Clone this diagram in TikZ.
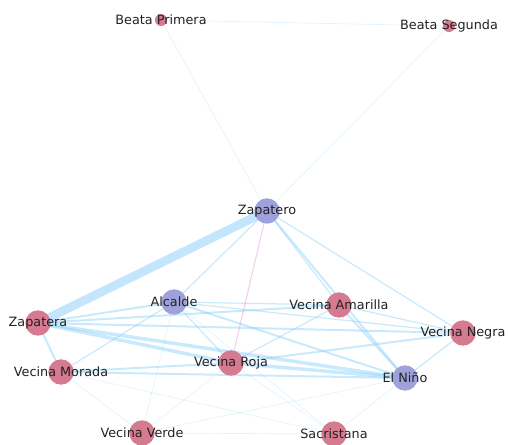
\documentclass[tikz,border=0pt]{standalone}
\usepackage{fontspec}
\setmainfont{DejaVu Sans}
\usepackage{xcolor}
\usepackage{tikz}
\usetikzlibrary{backgrounds}
\definecolor{CharPink}{HTML}{D67A91}
\definecolor{CharBlue}{HTML}{9EA1DA}
\definecolor{TieBlue}{HTML}{87CEFA}
\definecolor{TiePink}{HTML}{D9A0E0}
\definecolor{NameInk}{HTML}{222222}

\begin{document}
\begin{tikzpicture}[
  x=0.75pt,y=-0.75pt,
  every node/.style={font=\fontsize{9.6}{11}\selectfont},
  person/.style={circle,inner sep=0pt,minimum size=19pt,draw=none},
  woman/.style={person,fill=CharPink},
  man/.style={person,fill=CharBlue},
  beata/.style={woman,minimum size=9pt},
  charname/.style={text=NameInk},
  tie/.style={draw=TieBlue,line cap=round,draw opacity=0.45},
  faint/.style={tie,line width=0.5pt,draw opacity=0.25},
  thin/.style={tie,line width=0.9pt},
  mid/.style={tie,line width=1.5pt},
  wide/.style={tie,line width=2.6pt},
  huge/.style={tie,line width=6.5pt,draw opacity=0.5}
]
  \useasboundingbox (0,0) rectangle (508,444);

  % characters
  \node[beata,label={[charname]center:Beata Primera}] (primera) at (161,20) {};
  \node[beata,label={[charname]center:Beata Segunda}] (segunda) at (449,26) {};
  \node[man,label={[charname]center:Zapatero}] (zapatero) at (267,211) {};
  \node[man,label={[charname]center:Alcalde}] (alcalde) at (174,302) {};
  \node[woman,label={[charname]center:Vecina Amarilla}] (amarilla) at (339,305) {};
  \node[woman,label={[charname]center:Zapatera}] (zapatera) at (38,323) {};
  \node[woman,label={[charname]center:Vecina Negra}] (negra) at (463,333) {};
  \node[woman,label={[charname]center:Vecina Roja}] (roja) at (231,363) {};
  \node[woman,label={[charname]center:Vecina Morada}] (morada) at (61,372) {};
  \node[man,label={[charname]center:El Niño}] (nino) at (405,378) {};
  \node[woman,label={[charname]center:Vecina Verde}] (verde) at (142,433) {};
  \node[woman,label={[charname]center:Sacristana}] (sacristana) at (334,434) {};

  % co-occurrence ties
  \begin{scope}[on background layer]
  \draw[faint] (primera.center) -- (segunda.center);
  \draw[faint] (primera.center) -- (zapatero.center);
  \draw[faint] (segunda.center) -- (zapatero.center);
  \draw[huge] (zapatera.center) -- (zapatero.center);
  \draw[wide] (zapatera.center) -- (roja.center);
  \draw[wide] (zapatera.center) -- (nino.center);
  \draw[wide] (roja.center) -- (nino.center);
  \draw[mid] (zapatero.center) -- (nino.center);
  \draw[mid] (zapatera.center) -- (alcalde.center);
  \draw[mid] (zapatera.center) -- (amarilla.center);
  \draw[mid] (zapatera.center) -- (negra.center);
  \draw[mid] (zapatera.center) -- (morada.center);
  \draw[mid] (morada.center) -- (roja.center);
  \draw[mid] (morada.center) -- (nino.center);
  \draw[mid] (alcalde.center) -- (nino.center);
  \draw[mid] (roja.center) -- (negra.center);
  \draw[mid] (amarilla.center) -- (nino.center);
  \draw[thin] (alcalde.center) -- (roja.center);
  \draw[thin] (alcalde.center) -- (negra.center);
  \draw[thin] (alcalde.center) -- (amarilla.center);
  \draw[thin] (roja.center) -- (amarilla.center);
  \draw[thin] (amarilla.center) -- (negra.center);
  \draw[thin] (nino.center) -- (negra.center);
  \draw[thin] (zapatero.center) -- (alcalde.center);
  \draw[thin] (zapatero.center) -- (negra.center);
  \draw[thin] (zapatero.center) -- (amarilla.center);
  \draw[thin,draw=TiePink] (zapatero.center) -- (roja.center);
  \draw[thin] (morada.center) -- (alcalde.center);
  \draw[faint] (verde.center) -- (roja.center);
  \draw[faint] (verde.center) -- (sacristana.center);
  \draw[faint] (verde.center) -- (nino.center);
  \draw[faint] (verde.center) -- (morada.center);
  \draw[faint] (verde.center) -- (alcalde.center);
  \draw[faint] (sacristana.center) -- (nino.center);
  \draw[faint] (sacristana.center) -- (roja.center);
  \draw[faint] (sacristana.center) -- (morada.center);
  \draw[faint] (sacristana.center) -- (alcalde.center);
  \end{scope}
\end{tikzpicture}
\end{document}
